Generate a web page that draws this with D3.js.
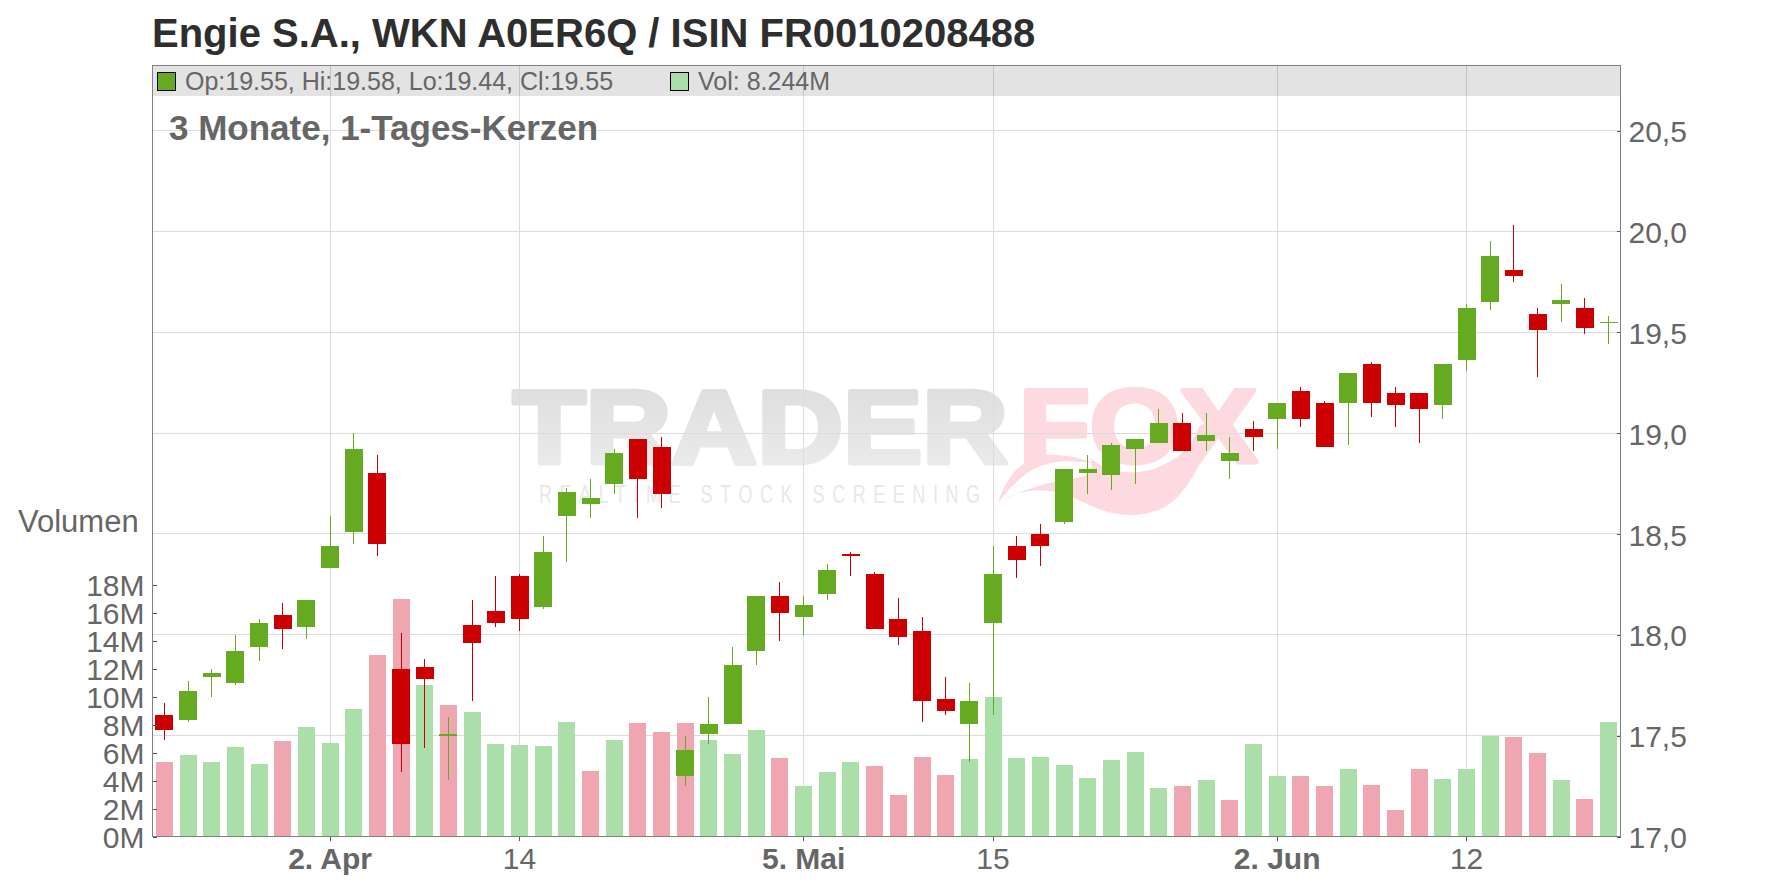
<!DOCTYPE html>
<html><head><meta charset="utf-8">
<script src="https://cdn.jsdelivr.net/npm/d3@7/dist/d3.min.js"></script>
<style>
html,body{margin:0;padding:0;background:#fff}
svg{display:block;font-family:"Liberation Sans",Arial,sans-serif}
</style></head><body>
<svg id="c" width="1776" height="888"></svg>
<script>
const titleText = "Engie S.A., WKN A0ER6Q / ISIN FR0010208488";
const subtitleText = "3 Monate, 1-Tages-Kerzen";
const legendOhlc = "Op:19.55, Hi:19.58, Lo:19.44, Cl:19.55";
const legendVol = "Vol: 8.244M";
const opens  = [17.60,17.58,17.79,17.76,17.94,18.10,18.04,18.33,18.51,18.80,17.83,17.84,17.50,18.05,18.12,18.29,18.14,18.59,18.65,18.75,18.97,18.93,17.30,17.51,17.56,17.92,18.19,18.09,18.20,18.40,18.30,18.08,18.02,17.68,17.56,18.06,18.44,18.50,18.56,18.80,18.79,18.92,18.95,19.05,18.96,18.86,19.02,19.07,19.21,19.15,19.15,19.34,19.20,19.20,19.14,19.36,19.65,19.81,19.59,19.64,19.62,19.55];
const highs  = [17.66,17.77,17.83,18.00,18.08,18.16,18.17,18.59,19.00,18.89,18.01,17.88,17.59,18.17,18.29,18.30,18.49,18.73,18.77,18.92,18.97,18.98,17.50,17.69,17.94,18.19,18.26,18.19,18.35,18.41,18.31,18.18,18.09,17.79,17.76,18.44,18.49,18.55,18.82,18.89,18.95,18.97,19.12,19.10,19.10,18.98,19.06,19.15,19.23,19.16,19.30,19.35,19.23,19.20,19.34,19.64,19.95,20.03,19.62,19.74,19.67,19.58];
const lows   = [17.48,17.57,17.69,17.75,17.87,17.93,17.98,18.33,18.45,18.39,17.32,17.44,17.28,17.67,18.04,18.02,18.13,18.36,18.58,18.70,18.58,18.63,17.25,17.46,17.56,17.85,17.97,18.00,18.17,18.29,18.03,17.95,17.57,17.60,17.37,17.60,18.28,18.34,18.55,18.70,18.72,18.75,18.95,18.91,18.91,18.77,18.91,18.92,19.03,18.93,18.94,19.08,19.03,18.95,19.07,19.31,19.61,19.75,19.28,19.55,19.49,19.44];
const closes = [17.53,17.72,17.81,17.92,18.06,18.03,18.17,18.44,18.92,18.45,17.46,17.78,17.51,17.96,18.06,18.08,18.41,18.71,18.68,18.90,18.77,18.70,17.43,17.56,17.85,18.19,18.11,18.15,18.32,18.39,18.03,17.99,17.67,17.62,17.67,18.30,18.37,18.44,18.82,18.82,18.94,18.97,19.05,18.91,18.99,18.90,18.98,19.15,19.07,18.93,19.30,19.15,19.14,19.12,19.34,19.62,19.88,19.78,19.51,19.66,19.52,19.55];
const volumes = [5.29,5.79,5.29,6.36,5.21,6.79,7.79,6.71,9.14,13.0,16.93,10.79,9.36,8.86,6.64,6.57,6.43,8.21,4.71,6.86,8.14,7.5,8.14,6.86,5.86,7.64,5.64,3.64,4.64,5.29,5.07,3.0,5.71,4.36,5.57,9.93,5.64,5.71,5.14,4.21,5.5,6.07,3.5,3.64,4.07,2.64,6.64,4.29,4.29,3.64,4.79,3.71,1.86,4.79,4.14,4.79,7.21,7.14,5.93,4.07,2.71,8.21];
const volumeUp = [0,1,1,1,1,0,1,1,1,0,0,1,0,1,1,1,1,1,0,1,0,0,0,1,1,1,0,1,1,1,0,0,0,0,1,1,1,1,1,1,1,1,1,0,1,0,1,1,0,0,1,0,0,0,1,1,1,0,0,1,0,1];
const xTickIndex = [7,15,27,35,47,55];
const xTickLabels = ["2. Apr","14","5. Mai","15","2. Jun","12"];
const xTickBold = [true,false,true,false,true,false];
const priceTicks = [17,17.5,18,18.5,19,19.5,20,20.5];
const volumeTicks = [0,2,4,6,8,10,12,14,16,18];

const UP="#66aa21", DOWN="#cc0000", VUP="#acdeaa", VDOWN="#f0a6b0", GRID="#dcdcdc", AXIS="#808080", TXT="#666666";
const L=152.5,R=1620.5,T=65.5,B=836.5;
const svg=d3.select("#c");
const x=d3.scaleBand().domain(d3.range(opens.length)).range([L,R]);
const y=d3.scaleLinear().domain([17,20.5]).range([B,130.5]);
const yV=d3.scaleLinear().domain([0,18]).range([B,584.5]);
const cx=i=>x(i)+x.bandwidth()/2;

// watermark
const defs=svg.append("defs");
const g1=defs.append("linearGradient").attr("id","wm").attr("x1",0).attr("y1",0).attr("x2",0).attr("y2",1);
g1.append("stop").attr("offset",0).attr("stop-color","#dcdcdc");
g1.append("stop").attr("offset",1).attr("stop-color","#ededed");
const wm=svg.append("g").style("font-weight","bold");
wm.append("text").attr("x",513).attr("y",463).attr("font-size",103).attr("textLength",495).attr("lengthAdjust","spacingAndGlyphs")
  .attr("fill","url(#wm)").attr("stroke","url(#wm)").attr("stroke-width",5).attr("stroke-linejoin","round").text("TRADER");
wm.append("text").attr("x",1019).attr("y",462).attr("font-size",103).attr("textLength",238).attr("lengthAdjust","spacingAndGlyphs")
  .attr("fill","#fddae0").attr("stroke","#fddae0").attr("stroke-width",5).attr("stroke-linejoin","round").text("FOX");
wm.append("text").attr("transform","translate(539,503) scale(1,1.38)").attr("font-size",18).attr("textLength",441)
  .attr("fill","#e8e8e8").style("font-weight","normal").text("REALTIME STOCK SCREENING");
wm.append("path").attr("fill","#fddae0")
  .attr("d","M998 503C1008 470 1030 452 1058 455C1072 456 1085 459 1092 463C1072 460 1052 460 1036 468C1020 476 1008 490 998 503Z");
wm.append("path").attr("fill","#fddae0")
  .attr("d","M1002 501C1030 483 1060 490 1085 503C1110 516 1140 520 1165 507C1190 492 1205 455 1218 420L1200 425C1190 450 1175 462 1150 470C1125 476 1105 470 1090 458C1095 470 1090 476 1075 478C1050 482 1025 488 1002 501Z");

// grid
const grid=svg.append("g").attr("stroke",GRID).attr("stroke-width",1).attr("shape-rendering","crispEdges");
grid.selectAll(".h").data(priceTicks).join("line").attr("x1",L).attr("x2",R).attr("y1",d=>y(d)).attr("y2",d=>y(d));
grid.selectAll(".v").data(xTickIndex).join("line").attr("x1",d=>cx(d)).attr("x2",d=>cx(d)).attr("y1",T).attr("y2",B);

// legend band
svg.append("rect").attr("x",L).attr("y",T).attr("width",R-L).attr("height",30.5).attr("fill","#000").attr("opacity",0.11).attr("shape-rendering","crispEdges");

// volume bars
svg.append("g").attr("shape-rendering","crispEdges").selectAll("rect").data(volumes).join("rect")
  .attr("x",(d,i)=>cx(i)-8.5).attr("width",17).attr("y",d=>yV(d)).attr("height",d=>B-yV(d))
  .attr("fill",(d,i)=>volumeUp[i]?VUP:VDOWN);

// candles
const candles=svg.append("g").attr("shape-rendering","crispEdges");
candles.selectAll("line").data(opens).join("line")
  .attr("x1",(d,i)=>cx(i)).attr("x2",(d,i)=>cx(i)).attr("y1",(d,i)=>y(highs[i])).attr("y2",(d,i)=>y(lows[i]))
  .attr("stroke",(d,i)=>closes[i]>=opens[i]?UP:DOWN).attr("stroke-width",1);
candles.selectAll("rect").data(opens).join("rect")
  .attr("x",(d,i)=>cx(i)-9).attr("width",18)
  .attr("y",(d,i)=>y(Math.max(d,closes[i])))
  .attr("height",(d,i)=>Math.max(1,Math.abs(y(d)-y(closes[i]))))
  .attr("fill",(d,i)=>closes[i]>=opens[i]?UP:DOWN);

// axes
function style(g){
  g.attr("font-family",null).attr("font-size",null);
  g.selectAll("text").attr("fill",TXT).style("font-size","30px");
  g.selectAll(".tick line").attr("stroke","#555").attr("shape-rendering","crispEdges");
  g.select(".domain").remove();
}
svg.append("g").attr("transform",`translate(${R},0)`)
  .call(d3.axisRight(y).tickValues(priceTicks).tickSize(-4).tickPadding(8).tickFormat(d=>d3.format(".1f")(d).replace(".",",")))
  .call(style).selectAll("text").attr("dy","0.373em");
svg.append("g").attr("transform",`translate(${L},0)`)
  .call(d3.axisLeft(yV).tickValues(volumeTicks).tickSize(-4).tickPadding(8).tickFormat(d=>d+"M"))
  .call(style).selectAll("text").attr("dy","0.373em");
const xAxis=d3.axisBottom(x).tickValues(xTickIndex).tickSize(4).tickFormat(d=>xTickLabels[xTickIndex.indexOf(d)]);
svg.append("g").attr("transform",`translate(0,${B})`).call(xAxis).call(style)
  .selectAll("text").attr("y",32.5).attr("dy",0).style("font-weight",d=>xTickBold[xTickIndex.indexOf(d)]?"bold":"normal");

// plot frame
const fr=svg.append("g").attr("stroke",AXIS).attr("stroke-width",1).attr("shape-rendering","crispEdges").attr("fill","none");
fr.append("rect").attr("x",L).attr("y",T).attr("width",R-L).attr("height",B-T);

// texts
function label(tx,ty,size,fill,bold,str){
  svg.append("text").attr("x",tx).attr("y",ty).attr("font-size",size).attr("font-weight",bold?"bold":"normal")
    .attr("fill",fill).text(str);
}
label(152,46.5,40,"#2e2e2e",true,titleText);
label(169,139.5,35,TXT,true,subtitleText);
label(18,532,31,TXT,false,"Volumen");
label(185,90,25,TXT,false,legendOhlc);
label(698,90,25,TXT,false,legendVol);
svg.append("rect").attr("x",157.5).attr("y",72.5).attr("width",18).attr("height",18).attr("fill",UP).attr("stroke","#000").attr("shape-rendering","crispEdges");
svg.append("rect").attr("x",670.5).attr("y",72.5).attr("width",18).attr("height",18).attr("fill",VUP).attr("stroke","#000").attr("shape-rendering","crispEdges");
</script>
</body></html>
